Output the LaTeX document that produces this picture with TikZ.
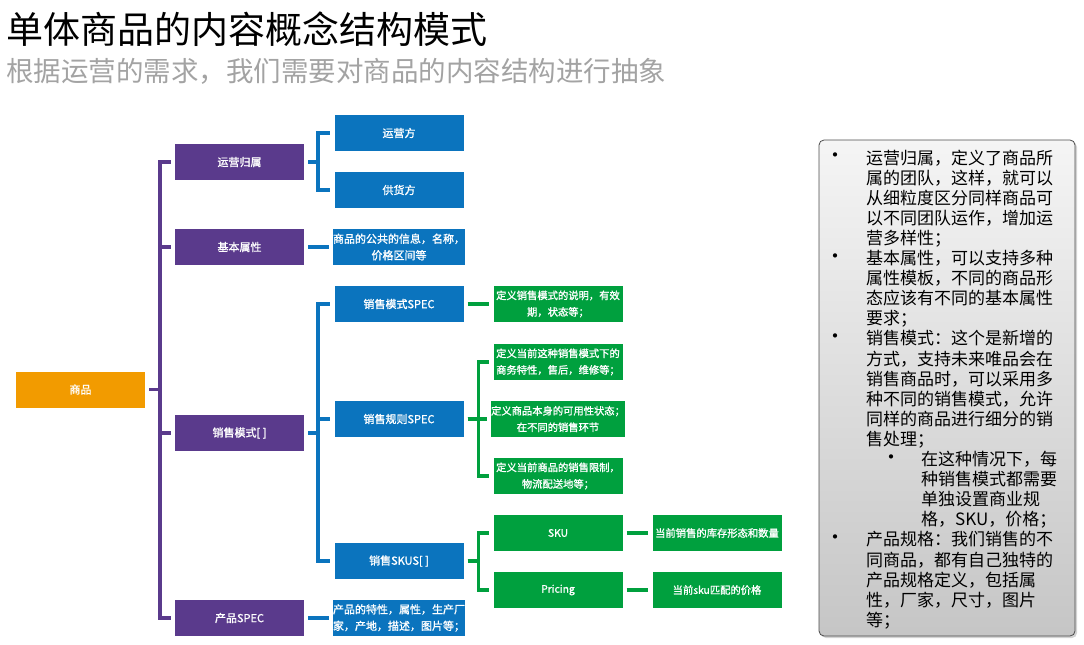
\documentclass[tikz,border=0pt]{standalone}
\usepackage{fontspec}
\setmainfont{Noto Sans CJK SC}
\newfontfamily\boxfont[FakeBold=1.2]{Noto Sans CJK SC}
\usetikzlibrary{shadows}
\definecolor{rootorange}{HTML}{F29B00}
\definecolor{catpurple}{HTML}{5A3A8C}
\definecolor{itemblue}{HTML}{0B74BE}
\definecolor{notegreen}{HTML}{00A03E}
\definecolor{subgray}{HTML}{A3A3A3}
\begin{document}
\begin{tikzpicture}[x=1pt,y=-1pt,
  box/.style={minimum width=129pt, minimum height=36pt, inner sep=0pt, text=white, align=center, font=\boxfont\fontsize{11}{16.5}\selectfont},
  rootbox/.style={box, fill=rootorange},
  catbox/.style={box, fill=catpurple},
  itembox/.style={box, fill=itemblue},
  notebox/.style={box, fill=notegreen, font=\boxfont\fontsize{10.3}{16.5}\selectfont},
  link/.style={line width=3.5pt, shorten <=4pt, shorten >=4pt},
  plink/.style={link, draw=catpurple},
  blink/.style={link, draw=itemblue},
  glink/.style={link, draw=notegreen},
  panel/.style={draw=black!70, line width=0.8pt, rounded corners=5pt, top color=gray!8, bottom color=gray!45, minimum width=256pt, minimum height=496pt, drop shadow={shadow xshift=2pt, shadow yshift=-2pt, opacity=0.35}},
  ptext/.style={anchor=north west, inner sep=0pt, align=left, font=\fontsize{17}{20.1}\selectfont},
  bullet/.style={inner sep=0pt, font=\fontsize{20}{20}\selectfont}]
\useasboundingbox (0,0) rectangle (1084,645);
% title
\node[anchor=west, inner sep=0pt, font=\fontsize{37}{40}\selectfont] (title) at (6,29) {单体商品的内容概念结构模式};
\node[anchor=west, inner sep=0pt, text=subgray, font=\fontsize{27.5}{32}\selectfont] (subtitle) at (6,71) {根据运营的需求，我们需要对商品的内容结构进行抽象};
% tree
\node[rootbox] (goods) at (80.5,389.5) {商品};
\node[catbox] (owner) at (239.5,162) {运营归属};
\node[catbox] (basic) at (239.5,247) {基本属性};
\node[catbox] (mode) at (239.5,433) {销售模式[ ]};
\node[catbox] (prod) at (239.5,618) {产品SPEC};
\node[itembox] (operator) at (399,133) {运营方};
\node[itembox] (supplier) at (399,190) {供货方};
\node[itembox] (basicinfo) at (399,247) {商品的公共的信息，名称，\\价格区间等};
\node[itembox] (modespec) at (399,304) {销售模式SPEC};
\node[itembox] (rulespec) at (399,419) {销售规则SPEC};
\node[itembox] (skus) at (399,561) {销售SKUS[ ]};
\node[itembox] (prodinfo) at (399,618) {产品的特性，属性，生产厂\\家，产地，描述，图片等；};
\node[notebox] (modenote) at (558,304) {定义销售模式的说明，有效\\期，状态等；};
\node[notebox] (rule1) at (558,362) {定义当前这种销售模式下的\\商务特性，售后，维修等；};
\node[notebox] (rule2) at (558,419) {定义商品本身的可用性状态；\\在不同的销售环节};
\node[notebox] (rule3) at (558,476) {定义当前商品的销售限制，\\物流配送地等；};
\node[notebox] (sku) at (558,533) {SKU};
\node[notebox] (pricing) at (558,590) {Pricing};
\node[notebox] (skunote) at (717,533) {当前销售的库存形态和数量};
\node[notebox] (pricenote) at (717,590) {当前sku匹配的价格};
% brackets
\draw[plink] (goods.east) -- ++(15,0) |- (owner.west);
\draw[plink] (goods.east) -- ++(15,0) |- (basic.west);
\draw[plink] (goods.east) -- ++(15,0) |- (mode.west);
\draw[plink] (goods.east) -- ++(15,0) |- (prod.west);
\draw[blink] (owner.east) -- ++(14,0) |- (operator.west);
\draw[blink] (owner.east) -- ++(14,0) |- (supplier.west);
\draw[blink] (basic.east) -- (basicinfo.west);
\draw[blink] (mode.east) -- ++(14,0) |- (modespec.west);
\draw[blink] (mode.east) -- ++(14,0) |- (rulespec.west);
\draw[blink] (mode.east) -- ++(14,0) |- (skus.west);
\draw[blink] (prod.east) -- (prodinfo.west);
\draw[glink] (modespec.east) -- (modenote.west);
\draw[glink] (rulespec.east) -- ++(15,0) |- (rule1.west);
\draw[glink] (rulespec.east) -- ++(15,0) |- (rule2.west);
\draw[glink] (rulespec.east) -- ++(15,0) |- (rule3.west);
\draw[glink] (skus.east) -- ++(15,0) |- (sku.west);
\draw[glink] (skus.east) -- ++(15,0) |- (pricing.west);
\draw[glink] (sku.east) -- (skunote.west);
\draw[glink] (pricing.east) -- (pricenote.west);
% notes panel
\node[panel] (panel) at (947,388) {};
\node[ptext] (note1) at (866,149.5) {运营归属，定义了商品所\\属的团队，这样，就可以\\从细粒度区分同样商品可\\以不同团队运作，增加运\\营多样性；};
\node[ptext] (note2) at (866,250) {基本属性，可以支持多种\\属性模板，不同的商品形\\态应该有不同的基本属性\\要求；};
\node[ptext] (note3) at (866,330.4) {销售模式：这个是新增的\\方式，支持未来唯品会在\\销售商品时，可以采用多\\种不同的销售模式，允许\\同样的商品进行细分的销\\售处理；};
\node[ptext] (note31) at (921,451) {在这种情况下，每\\种销售模式都需要\\单独设置商业规\\格，SKU，价格；};
\node[ptext] (note4) at (866,531.4) {产品规格：我们销售的不\\同商品，都有自己独特的\\产品规格定义，包括属\\性，厂家，尺寸，图片\\等；};
\node[bullet] (dot1) at (835,158) {•};
\node[bullet] (dot2) at (835,258.5) {•};
\node[bullet] (dot3) at (835,338.9) {•};
\node[bullet] (dot31) at (891,459.5) {•};
\node[bullet] (dot4) at (835,539.9) {•};
\end{tikzpicture}
\end{document}
